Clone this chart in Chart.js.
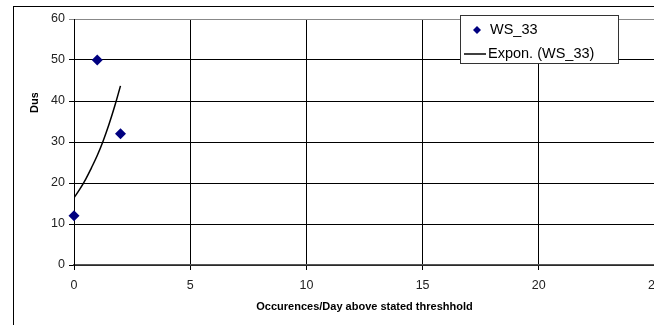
<!DOCTYPE html>
<html lang="en">
  <head>
    <meta charset="utf-8" />
    <title>Dust vs occurences</title>
    <style>
      * {
        margin: 0;
        padding: 0;
      }
      body {
        width: 654px;
        height: 325px;
        overflow: hidden;
        background: white;
        position: relative;
      }
      .frame {
        position: absolute;
        left: 13px;
        top: 6px;
        width: 800px;
        height: 400px;
        border: 1px solid #000;
      }
      .chartBox {
        position: absolute;
        left: 0;
        top: 0;
      }
    </style>
  </head>
  <body>
    <div class="frame"></div>
    <div class="chartBox">
      <canvas id="myChart" width="720" height="325"></canvas>
    </div>

    <script src="https://cdn.jsdelivr.net/npm/chart.js"></script>

    <script>
      // measured points (WS_33)
      const occX = [0, 1, 2];
      const dustY = [12, 50, 32];

      // exponential trendline
      const trendX = [0, 0.25, 0.5, 0.75, 1, 1.25, 1.5, 1.75, 2];
      const trendY = [16.4, 18.5, 20.9, 23.7, 26.7, 30.2, 34.2, 38.7, 43.7];

      const xTicks = [0, 5, 10, 15, 20, 25];
      const yTicks = [0, 10, 20, 30, 40, 50, 60];

      const font = "'Liberation Sans', Arial, sans-serif";

      // y title sits high up and gets cut off by the plot frame
      const yTitle = {
        id: "yTitle",
        afterDraw(chart) {
          const ctx = chart.ctx;
          ctx.save();
          ctx.beginPath();
          ctx.rect(0, 93, 70, 200);
          ctx.clip();
          ctx.translate(35, 113);
          ctx.rotate(-Math.PI / 2);
          ctx.font = "bold 11px " + font;
          ctx.fillStyle = "#000";
          ctx.textBaseline = "middle";
          ctx.textAlign = "left";
          ctx.fillText("Dust", 0, 0);
          ctx.restore();
        },
      };

      // excel-like legend box inside the plot
      const boxLegend = {
        id: "boxLegend",
        afterDraw(chart) {
          const ctx = chart.ctx;
          ctx.save();
          ctx.fillStyle = "#fff";
          ctx.fillRect(460, 15, 159, 49);
          ctx.strokeStyle = "#333";
          ctx.lineWidth = 1;
          ctx.strokeRect(460.5, 15.5, 158, 48);

          ctx.fillStyle = "#000080";
          ctx.beginPath();
          ctx.moveTo(477, 26);
          ctx.lineTo(481, 30);
          ctx.lineTo(477, 34);
          ctx.lineTo(473, 30);
          ctx.closePath();
          ctx.fill();

          ctx.strokeStyle = "#000";
          ctx.lineWidth = 1.5;
          ctx.beginPath();
          ctx.moveTo(464, 54);
          ctx.lineTo(486, 54);
          ctx.stroke();

          ctx.fillStyle = "#000";
          ctx.font = "14.5px " + font;
          ctx.textBaseline = "middle";
          ctx.fillText(chart.data.datasets[0].label, 490, 30);
          ctx.fillText(chart.data.datasets[1].label, 488, 54);
          ctx.restore();
        },
      };

      const data = {
        datasets: [
          {
            label: "WS_33",
            data: occX.map((x, i) => ({ x: x, y: dustY[i] })),
            showLine: false,
            pointStyle: "rectRot",
            pointRadius: 5.5,
            backgroundColor: "#000080",
            borderColor: "#000080",
            borderWidth: 0,
            clip: false,
            order: 1,
          },
          {
            label: "Expon. (WS_33)",
            data: trendX.map((x, i) => ({ x: x, y: trendY[i] })),
            showLine: true,
            pointRadius: 0,
            borderColor: "#000",
            borderWidth: 1.5,
            tension: 0.4,
            fill: false,
            order: 2,
          },
        ],
      };

      const config = {
        type: "scatter",
        data: data,
        options: {
          responsive: false,
          animation: false,
          layout: {
            padding: { left: 40, top: 19, right: 65, bottom: 0 },
          },
          plugins: {
            legend: { display: false },
            tooltip: { enabled: false },
          },
          scales: {
            x: {
              type: "linear",
              min: 0,
              max: 25,
              afterBuildTicks: (s) => {
                s.ticks = xTicks.map((v) => ({ value: v }));
              },
              afterFit: (s) => {
                s.height = 60;
              },
              grid: { color: "#000", tickLength: 5 },
              border: { color: "#555", width: 1.5 },
              ticks: {
                color: "#222",
                padding: 8,
                maxRotation: 0,
                font: { family: font, size: 12.5 },
              },
              title: {
                display: true,
                text: "Occurences/Day above stated threshhold",
                color: "#000",
                font: { family: font, size: 11, weight: "bold" },
                padding: { top: 4, bottom: 11 },
              },
            },
            y: {
              min: 0,
              max: 60,
              afterBuildTicks: (s) => {
                s.ticks = yTicks.map((v) => ({ value: v }));
              },
              afterFit: (s) => {
                s.width = 34;
              },
              grid: {
                color: (c) => (c.tick && c.tick.value === 60 ? "#888" : "#000"),
                tickLength: 5,
              },
              border: { color: "#000", width: 1 },
              ticks: {
                color: "#222",
                padding: 4,
                font: { family: font, size: 12.5 },
              },
            },
          },
        },
        plugins: [yTitle, boxLegend],
      };

      const myChart = new Chart(document.getElementById("myChart"), config);
    </script>
  </body>
</html>
